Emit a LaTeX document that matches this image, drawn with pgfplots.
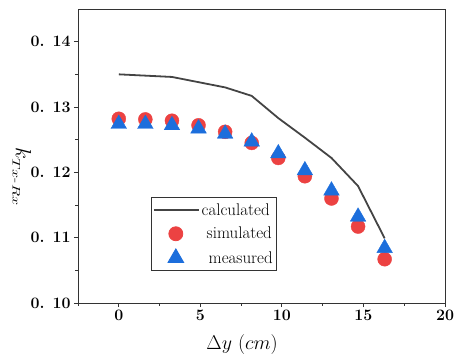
\RequirePackage{fix-cm}
\documentclass[border=0pt]{standalone}
\usepackage{pgfplots}
\pgfplotsset{compat=1.18}
\definecolor{simred}{RGB}{236,66,66}
\definecolor{meablue}{RGB}{28,110,220}
\definecolor{calcgray}{RGB}{68,68,68}
\pgfplotsset{
 linelegend/.style={legend image code/.code={\draw[##1, line width=1.8bp] (0bp,0bp) -- (45bp,0bp);}},
 marklegend/.style={legend image code/.code={\draw[mark repeat=2,mark phase=2,##1] plot coordinates {(0bp,0bp) (22bp,0bp) (45bp,0bp)};}},
}
\newcommand{\ytl}[1]{0.\hspace{0.5em}#1}
\begin{document}
\begin{tikzpicture}
\useasboundingbox (-78bp,-59bp) rectangle (381bp,303bp);
\begin{axis}[
 at={(0,0)}, anchor=south west,
 scale only axis, width=367bp, height=294bp,
 xmin=-2.5, xmax=20, ymin=0.10, ymax=0.145,
 xtick={0,5,10,15,20}, xticklabels={0,5,10,15,20},
 ytick={0.10,0.11,0.12,0.13,0.14},
 yticklabels={\ytl{10},\ytl{11},\ytl{12},\ytl{13},\ytl{14}},
 minor xtick={-2.5,2.5,7.5,12.5,17.5},
 minor ytick={0.105,0.115,0.125,0.135},
 tick align=outside, xtick pos=bottom, ytick pos=left,
 major tick length=4bp, minor tick length=2.5bp,
 tick style={black!80, line width=0.8bp},
 axis line style={black!80, line width=0.9bp},
 tick label style={font=\fontsize{16}{18}\selectfont\bfseries},
 xlabel={$\Delta y\ (cm)$},
 every axis x label/.style={at={(axis description cs:0.447,-0.142)}, anchor=center, font=\fontsize{20}{23}\selectfont},
 ylabel={$k_{\scalebox{1.45}[1]{\fontsize{11}{12}\selectfont$Tx$-$Rx$}}$},
 every axis y label/.style={at={(axis description cs:-0.153,0.43)}, anchor=center, rotate=-90, font=\fontsize{22}{24}\selectfont},
 legend style={at={(axis description cs:0.199,0.3605)}, anchor=north west,
   draw=black!80, line width=0.8bp, font=\fontsize{17}{19}\selectfont,
   inner xsep=1.5bp, inner ysep=4bp, row sep=6.5bp, cells={anchor=west}},
]
\addplot[calcgray, line width=1.8bp, linelegend]
 coordinates {(0,0.1350) (1.63,0.1348) (3.26,0.1346) (4.89,0.1338) (6.52,0.1330) (8.15,0.1317) (9.78,0.1283) (11.41,0.1253) (13.04,0.1222) (14.67,0.1179) (16.3,0.1099)};
\addlegendentry{calculated}
\addplot[only marks, mark=*, mark size=7bp, color=simred, mark options={draw=none, fill=simred}, marklegend]
 coordinates {(0,0.1282) (1.63,0.1281) (3.26,0.1279) (4.89,0.1272) (6.52,0.1262) (8.15,0.1245) (9.78,0.1222) (11.41,0.1194) (13.04,0.1160) (14.67,0.1117) (16.3,0.1067)};
\addlegendentry{\hspace{5bp}simulated}
\addplot[only marks, mark=triangle*, mark size=9bp, color=meablue, mark options={draw=none, fill=meablue}, marklegend]
 coordinates {(0,0.1274) (1.63,0.1274) (3.26,0.1272) (4.89,0.1267) (6.52,0.1259) (8.15,0.1247) (9.78,0.1229) (11.41,0.1203) (13.04,0.1172) (14.67,0.1132) (16.3,0.1084)};
\addlegendentry{\hspace{7bp}measured}
\end{axis}
\end{tikzpicture}
\end{document}
